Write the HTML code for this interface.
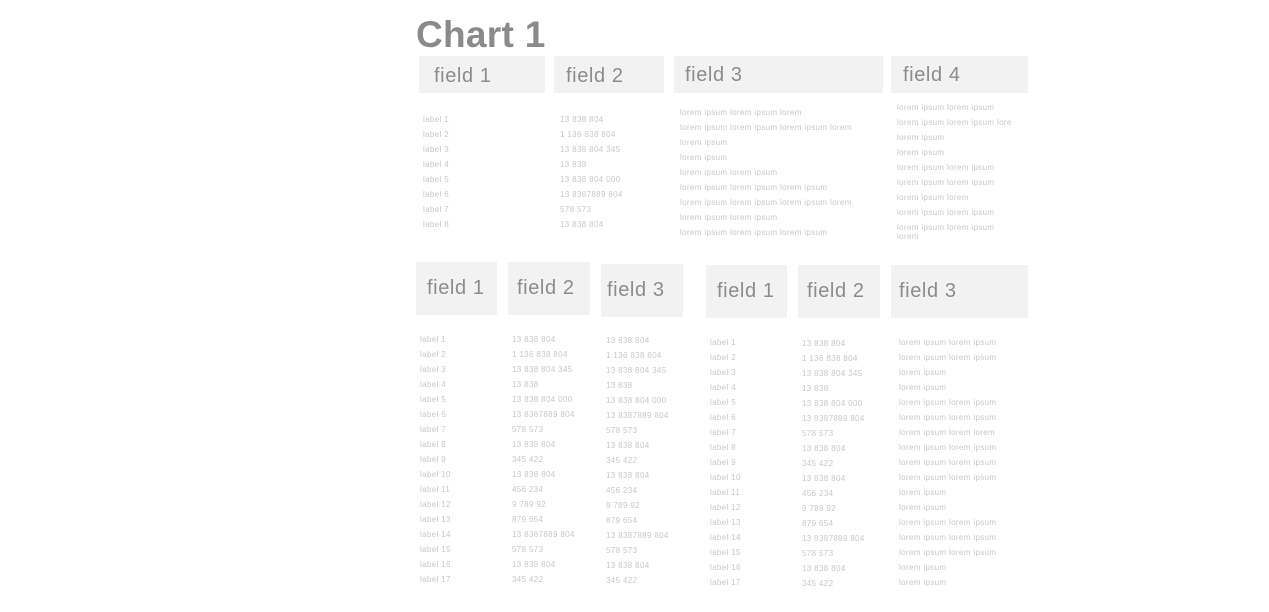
<!DOCTYPE html>
<html><head><meta charset="utf-8"><style>
body{margin:0;width:1269px;height:612px;background:#fff;position:relative;overflow:hidden;font-family:"Liberation Sans",sans-serif}
.t{position:absolute;left:416px;top:14px;font-size:37px;font-weight:bold;color:#8a8a8a;letter-spacing:0.3px}
.h{position:absolute;background:#f2f2f2;color:#8c8c8c;font-size:20px;letter-spacing:0.6px;box-sizing:border-box;display:flex;align-items:center}
.c{position:absolute;font-size:8px;line-height:15px;color:#c8c8c8;white-space:nowrap;letter-spacing:0.35px}
</style></head><body>
<div class="t">Chart 1</div>
<div class="h" style="left:419px;top:56px;width:126px;height:37px;padding-left:15px;padding-top:4px">field 1</div>
<div class="h" style="left:554px;top:56px;width:110px;height:37px;padding-left:12px;padding-top:4px">field 2</div>
<div class="h" style="left:674px;top:56px;width:209px;height:37px;padding-left:11px;padding-top:1px">field 3</div>
<div class="h" style="left:891px;top:56px;width:137px;height:37px;padding-left:12px;padding-top:1px">field 4</div>

<div class="c" style="left:423px;top:112px">label 1<br>label 2<br>label 3<br>label 4<br>label 5<br>label 6<br>label 7<br>label 8</div>
<div class="c" style="left:560px;top:112px">13 838 804<br>1 136 838 804<br>13 838 804 345<br>13 838<br>13 838 804 000<br>13 8387889 804<br>578 573<br>13 838 804</div>
<div class="c" style="left:680px;top:105px">lorem ipsum lorem ipsum lorem<br>lorem ipsum lorem ipsum lorem ipsum lorem<br>lorem ipsum<br>lorem ipsum<br>lorem ipsum lorem ipsum<br>lorem ipsum lorem ipsum lorem ipsum<br>lorem ipsum lorem ipsum lorem ipsum lorem<br>lorem ipsum lorem ipsum<br>lorem ipsum lorem ipsum lorem ipsum</div>
<div class="c" style="left:897px;top:100px">lorem ipsum lorem ipsum<br>lorem ipsum lorem ipsum lore<br>lorem ipsum<br>lorem ipsum<br>lorem ipsum lorem ipsum<br>lorem ipsum lorem ipsum<br>lorem ipsum lorem<br>lorem ipsum lorem ipsum<br>lorem ipsum lorem ipsum</div>
<div class="c" style="left:897px;top:232px;line-height:10px">lorem</div>

<div class="h" style="left:416px;top:262px;width:81px;height:53px;padding-left:11px">field 1</div>
<div class="h" style="left:508px;top:262px;width:82px;height:53px;padding-left:9px">field 2</div>
<div class="h" style="left:601px;top:264px;width:82px;height:53px;padding-left:6px">field 3</div>
<div class="h" style="left:706px;top:265px;width:81px;height:53px;padding-left:11px">field 1</div>
<div class="h" style="left:798px;top:265px;width:82px;height:53px;padding-left:9px">field 2</div>
<div class="h" style="left:891px;top:265px;width:137px;height:53px;padding-left:8px">field 3</div>

<div class="c" style="left:420px;top:332px">label 1<br>label 2<br>label 3<br>label 4<br>label 5<br>label 6<br>label 7<br>label 8<br>label 9<br>label 10<br>label 11<br>label 12<br>label 13<br>label 14<br>label 15<br>label 16<br>label 17</div>
<div class="c" style="left:512px;top:332px">13 838 804<br>1 136 838 804<br>13 838 804 345<br>13 838<br>13 838 804 000<br>13 8387889 804<br>578 573<br>13 838 804<br>345 422<br>13 838 804<br>456 234<br>9 789 92<br>879 654<br>13 8387889 804<br>578 573<br>13 838 804<br>345 422</div>
<div class="c" style="left:606px;top:333px">13 838 804<br>1 136 838 804<br>13 838 804 345<br>13 838<br>13 838 804 000<br>13 8387889 804<br>578 573<br>13 838 804<br>345 422<br>13 838 804<br>456 234<br>9 789 92<br>879 654<br>13 8387889 804<br>578 573<br>13 838 804<br>345 422</div>
<div class="c" style="left:710px;top:335px">label 1<br>label 2<br>label 3<br>label 4<br>label 5<br>label 6<br>label 7<br>label 8<br>label 9<br>label 10<br>label 11<br>label 12<br>label 13<br>label 14<br>label 15<br>label 16<br>label 17</div>
<div class="c" style="left:802px;top:336px">13 838 804<br>1 136 838 804<br>13 838 804 345<br>13 838<br>13 838 804 000<br>13 8387889 804<br>578 573<br>13 838 804<br>345 422<br>13 838 804<br>456 234<br>9 789 92<br>879 654<br>13 8387889 804<br>578 573<br>13 838 804<br>345 422</div>
<div class="c" style="left:899px;top:335px">lorem ipsum lorem ipsum<br>lorem ipsum lorem ipsum<br>lorem ipsum<br>lorem ipsum<br>lorem ipsum lorem ipsum<br>lorem ipsum lorem ipsum<br>lorem ipsum lorem lorem<br>lorem ipsum lorem ipsum<br>lorem ipsum lorem ipsum<br>lorem ipsum lorem ipsum<br>lorem ipsum<br>lorem ipsum<br>lorem ipsum lorem ipsum<br>lorem ipsum lorem ipsum<br>lorem ipsum lorem ipsum<br>lorem ipsum<br>lorem ipsum</div>
</body></html>
